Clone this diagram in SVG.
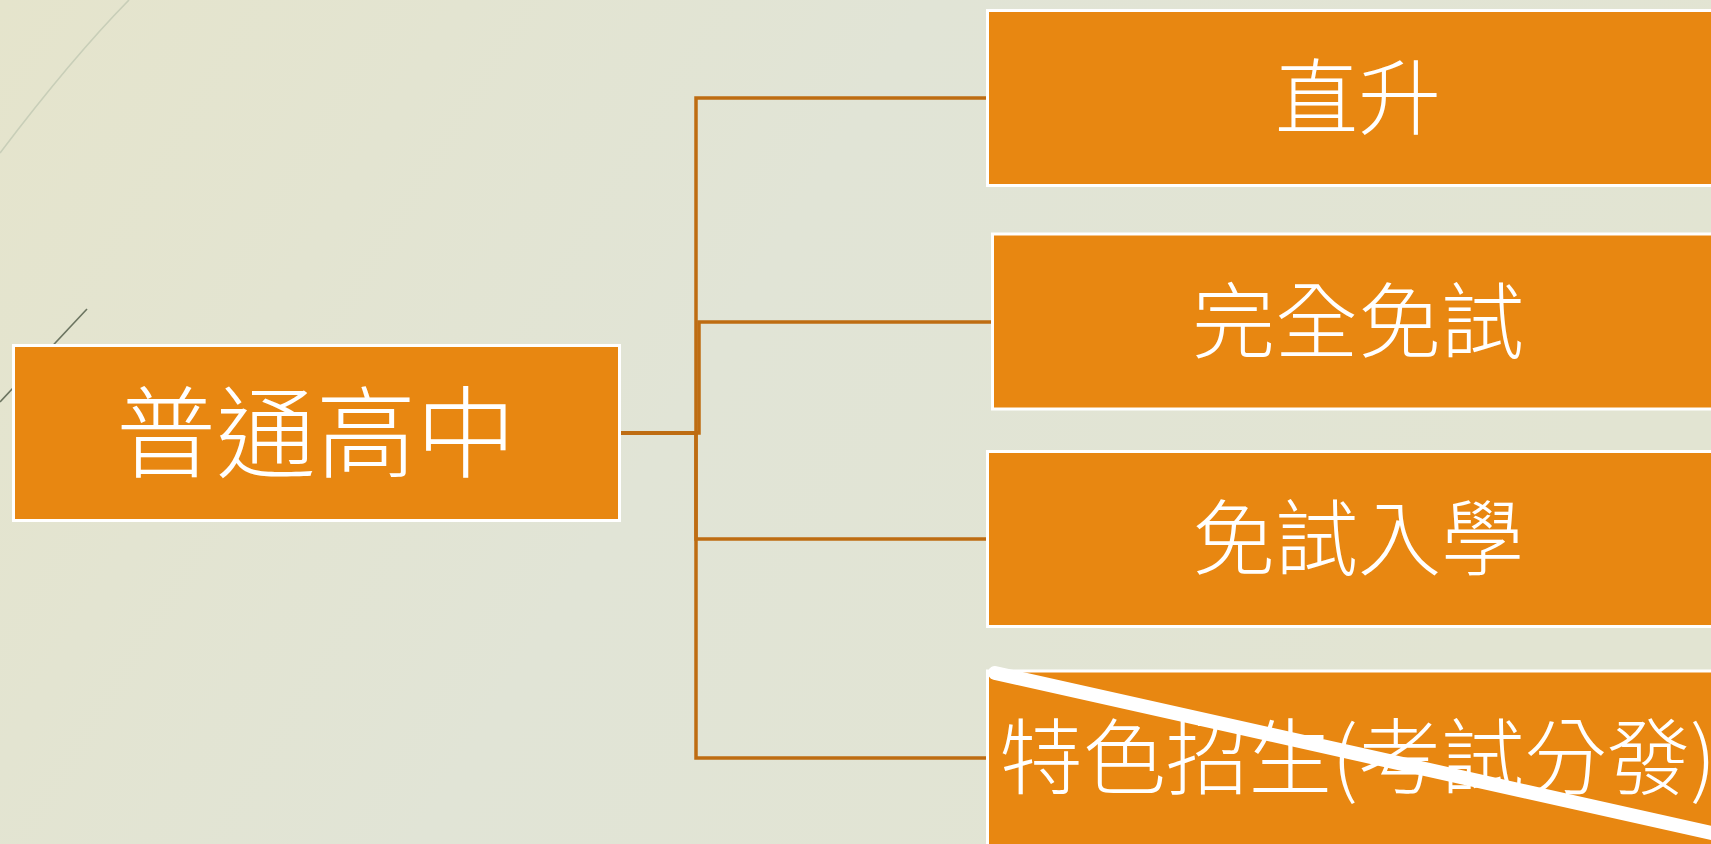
<svg xmlns="http://www.w3.org/2000/svg" width="1711" height="844" viewBox="0 0 1711 844">
  <defs>
    <linearGradient id="bg" x1="0" y1="0" x2="1" y2="0.3">
      <stop offset="0" stop-color="#E5E4CC"/>
      <stop offset="0.5" stop-color="#E1E4D6"/>
      <stop offset="1" stop-color="#E2E4D2"/>
    </linearGradient>
    <style>
      .box { fill: #E88711; stroke: #FFFFFF; stroke-width: 3; }
      .lbl { fill: #FFFFFF; font-family: "Noto Sans CJK TC", "Noto Sans CJK SC", sans-serif; font-weight: 300; text-anchor: middle; dominant-baseline: central; }
      .conn { fill: none; stroke: #BE6C12; stroke-width: 3.5; }
    </style>
  </defs>
  <rect x="0" y="0" width="1711" height="844" fill="url(#bg)"/>
  <g id="decor">
    <path d="M129,0 Q72,58 0,153" fill="none" stroke="#C8CEB8" stroke-width="1.6"/>
    <path d="M87,309 L0,402" fill="none" stroke="#6B7460" stroke-width="1.6"/>
  </g>
  <g id="connectors">
    <path class="conn" d="M620,433 H696 V98 H986"/>
    <path class="conn" d="M620,433 H699 V322 H991"/>
    <path class="conn" d="M620,433 H696 V539 H986"/>
    <path class="conn" d="M620,433 H696 V758 H986"/>
  </g>
  <g id="node-root">
    <rect class="box" x="13.5" y="345.5" width="606" height="175"/>
    <text class="lbl" x="316" y="426" font-size="100">普通高中</text>
  </g>
  <g id="node-1">
    <rect class="box" x="987.5" y="10.5" width="745" height="175"/>
    <text class="lbl" x="1358" y="92" font-size="83">直升</text>
  </g>
  <g id="node-2">
    <rect class="box" x="992.5" y="234" width="745" height="175"/>
    <text class="lbl" x="1358" y="315.5" font-size="83">完全免試</text>
  </g>
  <g id="node-3">
    <rect class="box" x="987.5" y="451.5" width="745" height="175"/>
    <text class="lbl" x="1358" y="533" font-size="83">免試入學</text>
  </g>
  <g id="node-4">
    <rect class="box" x="987.5" y="671" width="745" height="185"/>
    <text class="lbl" x="1358" y="752" font-size="83">特色招生(考試分發)</text>
    <path d="M995,673 L1725,836" fill="none" stroke="#FFFFFF" stroke-width="14" stroke-linecap="round"/>
  </g>
</svg>
